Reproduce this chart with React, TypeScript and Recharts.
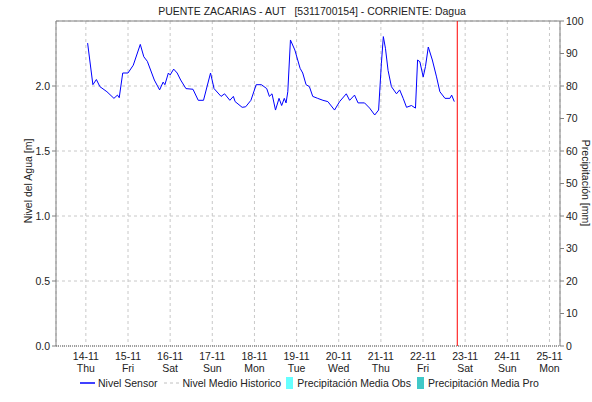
import React from 'react';
import {
  ComposedChart,
  Line,
  Bar,
  XAxis,
  YAxis,
  CartesianGrid,
  ReferenceLine,
  Legend
} from 'recharts';

// hours since 14-11 00:00
const hours = [
  1, 4, 6, 8, 12, 16, 18, 19, 21, 24, 27, 31, 33, 35, 39, 42, 44, 45, 47, 48,
  50, 52, 54, 57, 61, 64, 67, 71, 73, 77, 79, 82, 84, 85, 89, 91, 94, 97, 100, 103,
  104.5, 106, 108, 110, 111.5, 113, 114, 115, 116.5, 119, 122, 123.5, 125.4, 127.3, 129.2, 132, 135, 137.8, 141.6, 144.5,
  148.3, 150.2, 153, 155, 158.7, 161.6, 164.5, 166.7, 168.3, 169.4, 170.6, 172.1, 174, 176.9, 178.7, 180.7, 182.6, 185.4, 187.7, 188.9,
  190.2, 192.1, 193.4, 195, 197.3, 199.7, 201.6, 204.5, 207.3, 208.3, 209.8
];

const nivelSensor = [
  2.33, 2.01, 2.05, 1.995, 1.956, 1.905, 1.93, 1.91, 2.1, 2.1, 2.16, 2.32, 2.225, 2.19, 2.046, 1.97, 2.03, 2.01, 2.1, 2.085,
  2.13, 2.1, 2.046, 1.98, 1.975, 1.89, 1.89, 2.1, 1.98, 1.92, 1.94, 1.89, 1.92, 1.88, 1.836, 1.84, 1.89, 2.01, 2.01, 1.98,
  1.92, 1.94, 1.815, 1.905, 1.85, 1.905, 1.87, 1.956, 2.354, 2.277, 2.136, 2.1, 2.01, 1.995, 1.92, 1.905, 1.89, 1.88, 1.815, 1.88,
  1.94, 1.89, 1.93, 1.87, 1.87, 1.83, 1.777, 1.815, 2.175, 2.38, 2.29, 2.12, 1.995, 1.94, 1.97, 1.905, 1.836, 1.85, 1.83, 2.2,
  2.187, 2.07, 2.15, 2.3, 2.2, 2.07, 1.956, 1.905, 1.905, 1.93, 1.88
];

// no precipitation recorded in the period
const precipObs = hours.map(() => 0);

const dateLabels = ['14-11', '15-11', '16-11', '17-11', '18-11', '19-11', '20-11', '21-11', '22-11', '23-11', '24-11', '25-11'];
const dayLabels = ['Thu', 'Fri', 'Sat', 'Sun', 'Mon', 'Tue', 'Wed', 'Thu', 'Fri', 'Sat', 'Sun', 'Mon'];
const xTicks = dateLabels.map((_, i) => i * 24);
const levelTicks = [0, 0.5, 1, 1.5, 2];
const rainTicks = [0, 10, 20, 30, 40, 50, 60, 70, 80, 90, 100];
const nowHour = 211.5;

const data = hours.map((h, i) => ({ h, nivel: nivelSensor[i], precip: precipObs[i] }));

const FONT = '"Liberation Sans", Arial, sans-serif';
const FS = 10.5;
const AXIS = '#808080';
const TEXT = '#222';

const DateTick = (props: any) => {
  const { x, y, payload } = props;
  const i = Math.round(payload.value / 24);
  return (
    <text x={x} y={y} textAnchor="middle" fontSize={FS} fontFamily={FONT} fill={TEXT}>
      <tspan x={x} dy={14}>{dateLabels[i]}</tspan>
      <tspan x={x} dy={12}>{dayLabels[i]}</tspan>
    </text>
  );
};

const LegendBox = () => (
  <div
    style={{
      height: 18,
      width: 592,
      display: 'flex',
      alignItems: 'center',
      fontFamily: FONT,
      fontSize: FS,
      color: TEXT,
      paddingLeft: 80,
      boxSizing: 'border-box'
    }}
  >
    <svg width={15} height={4}><line x1={0} y1={2} x2={15} y2={2} stroke="#0000ff" strokeWidth={1.5} /></svg>
    <span style={{ marginLeft: 3 }}>Nivel Sensor</span>
    <svg width={15} height={4} style={{ marginLeft: 6 }}><line x1={0} y1={2} x2={15} y2={2} stroke="#c0c0c0" strokeWidth={1} strokeDasharray="3 3" /></svg>
    <span style={{ marginLeft: 4 }}>Nivel Medio Historico</span>
    <span style={{ display: 'inline-block', width: 7, height: 12, background: '#66ffff', marginLeft: 5 }} />
    <span style={{ marginLeft: 4 }}>Precipitación Media Obs</span>
    <span style={{ display: 'inline-block', width: 7, height: 12, background: '#40c8c8', marginLeft: 6 }} />
    <span style={{ marginLeft: 4 }}>Precipitación Media Pro</span>
  </div>
);

export default function App() {
  return (
    <div style={{ position: 'absolute', left: 0, top: 0, width: 592, height: 402, background: '#fff' }}>
      <ComposedChart width={592} height={402} data={data} margin={{ top: 21, right: 0, left: 0, bottom: 10 }}>
        <text x={312} y={15} textAnchor="middle" fontSize={FS} fontFamily={FONT} fill={TEXT} style={{ whiteSpace: 'pre' }}>
          {'PUENTE ZACARIAS - AUT   [5311700154] - CORRIENTE: Dagua'}
        </text>
        <text x={28} y={181} transform="rotate(-90 28 181)" textAnchor="middle" dominantBaseline="central" fontSize={FS} fontFamily={FONT} fill={TEXT}>
          Nivel del Agua [m]
        </text>
        <text x={586} y={183} transform="rotate(90 586 183)" textAnchor="middle" dominantBaseline="central" fontSize={FS} fontFamily={FONT} fill={TEXT}>
          Precipitación [mm]
        </text>
        <CartesianGrid stroke="#c8c8c8" strokeDasharray="3 3" />
        <XAxis
          dataKey="h"
          type="number"
          domain={[-17, 270]}
          ticks={xTicks}
          height={28}
          tickSize={0}
          tickMargin={0}
          tickLine={false}
          axisLine={{ stroke: '#555', strokeDasharray: '1 1' }}
          tick={<DateTick />}
          interval={0}
        />
        <YAxis
          domain={[0, 2.5]}
          ticks={levelTicks}
          width={56}
          tickSize={4}
          tickMargin={2}
          tickFormatter={(v: number) => v.toFixed(1)}
          axisLine={{ stroke: AXIS }}
          tickLine={{ stroke: AXIS }}
          tick={{ fontSize: FS, fontFamily: FONT, fill: TEXT }}
          interval={0}
        />
        <YAxis
          yAxisId="right"
          orientation="right"
          domain={[0, 100]}
          ticks={rainTicks}
          width={32}
          tickSize={4}
          tickMargin={2}
          axisLine={{ stroke: AXIS }}
          tickLine={{ stroke: AXIS }}
          tick={{ fontSize: FS, fontFamily: FONT, fill: TEXT }}
          interval={0}
          allowDataOverflow
        />
        <Bar
          yAxisId="right"
          dataKey="precip"
          fill="#66ffff"
          barSize={3}
          isAnimationActive={false}
          legendType="none"
        />
        <ReferenceLine yAxisId="right" y={100} stroke={AXIS} ifOverflow="visible" />
        <ReferenceLine x={nowHour} stroke="#ff0000" strokeWidth={1} />
        <Line
          dataKey="nivel"
          type="linear"
          stroke="#0000ff"
          strokeWidth={1}
          dot={false}
          isAnimationActive={false}
          legendType="none"
        />
        <Legend verticalAlign="bottom" align="left" content={<LegendBox />} wrapperStyle={{ left: 0, width: 592 }} />
      </ComposedChart>
    </div>
  );
}
